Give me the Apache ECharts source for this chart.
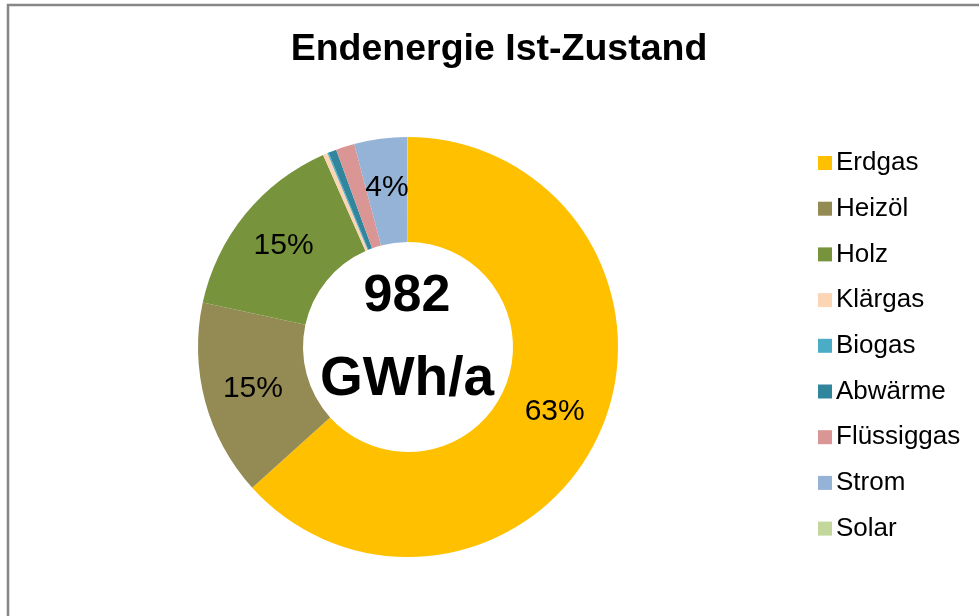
<!DOCTYPE html>
<html>
<head>
<meta charset="utf-8">
<script src="https://cdn.jsdelivr.net/npm/echarts@6/dist/echarts.min.js"></script>
<style>
  html, body { margin: 0; padding: 0; background: #fff; }
  #chart { width: 979px; height: 616px; }
</style>
</head>
<body>
<div id="chart"></div>
<script>
// Energieträger und Endenergie in GWh/a (Summe ~982)
var categories = ['Erdgas', 'Heizöl', 'Holz', 'Klärgas', 'Biogas', 'Abwärme', 'Flüssiggas', 'Strom', 'Solar'];
var values = [621, 148, 147, 3.5, 1, 6, 14, 40, 0.5];
var colors = ['#FFC000', '#948A54', '#77933C', '#FCD5B5', '#4BACC6', '#31859C', '#D99694', '#95B3D7', '#C3D69B'];
var totalText = ['982', 'GWh/a'];

var font = "'Liberation Sans', Arial, sans-serif";

var chart = echarts.init(document.getElementById('chart'));

var pieData = categories.map(function (name, i) {
    return { name: name, value: values[i], itemStyle: { color: colors[i] } };
});

var option = {
    backgroundColor: '#fff',
    animation: false,
    title: {
        text: 'Endenergie Ist-Zustand',
        left: 494,
        top: 26,
        textAlign: 'center',
        textStyle: { fontFamily: font, fontSize: 37.5, fontWeight: 'bold', color: '#000' }
    },
    legend: {
        orient: 'vertical',
        left: 818,
        top: 150,
        padding: 0,
        icon: 'rect',
        itemWidth: 14,
        itemHeight: 14,
        itemGap: 19.7,
        data: categories,
        textStyle: { fontFamily: font, fontSize: 26, color: '#000', lineHeight: 26, padding: [0, 0, 0, -1] }
    },
    graphic: [
        // Rahmen
        { type: 'rect', shape: { x: 8, y: 5, width: 1000, height: 700 },
          style: { fill: 'none', stroke: '#868686', lineWidth: 2.5 }, silent: true },
        { type: 'text', x: 407, y: 297,
          style: { text: totalText[0], font: 'bold 52px ' + font, fill: '#000', textAlign: 'center', textVerticalAlign: 'middle' } },
        { type: 'text', x: 407, y: 380,
          style: { text: totalText[1], font: 'bold 55px ' + font, fill: '#000', textAlign: 'center', textVerticalAlign: 'middle' } }
    ],
    series: [
        {
            type: 'pie',
            center: [408, 347],
            radius: [105, 210],
            startAngle: 90,
            clockwise: true,
            avoidLabelOverlap: false,
            label: {
                show: true,
                position: 'inside',
                fontFamily: font,
                fontSize: 30,
                color: '#000',
                formatter: function (p) {
                    return p.percent >= 3 ? Math.round(p.percent) + '%' : '';
                }
            },
            labelLine: { show: false },
            emphasis: { disabled: true },
            data: pieData
        }
    ]
};

chart.setOption(option);
</script>
</body>
</html>
